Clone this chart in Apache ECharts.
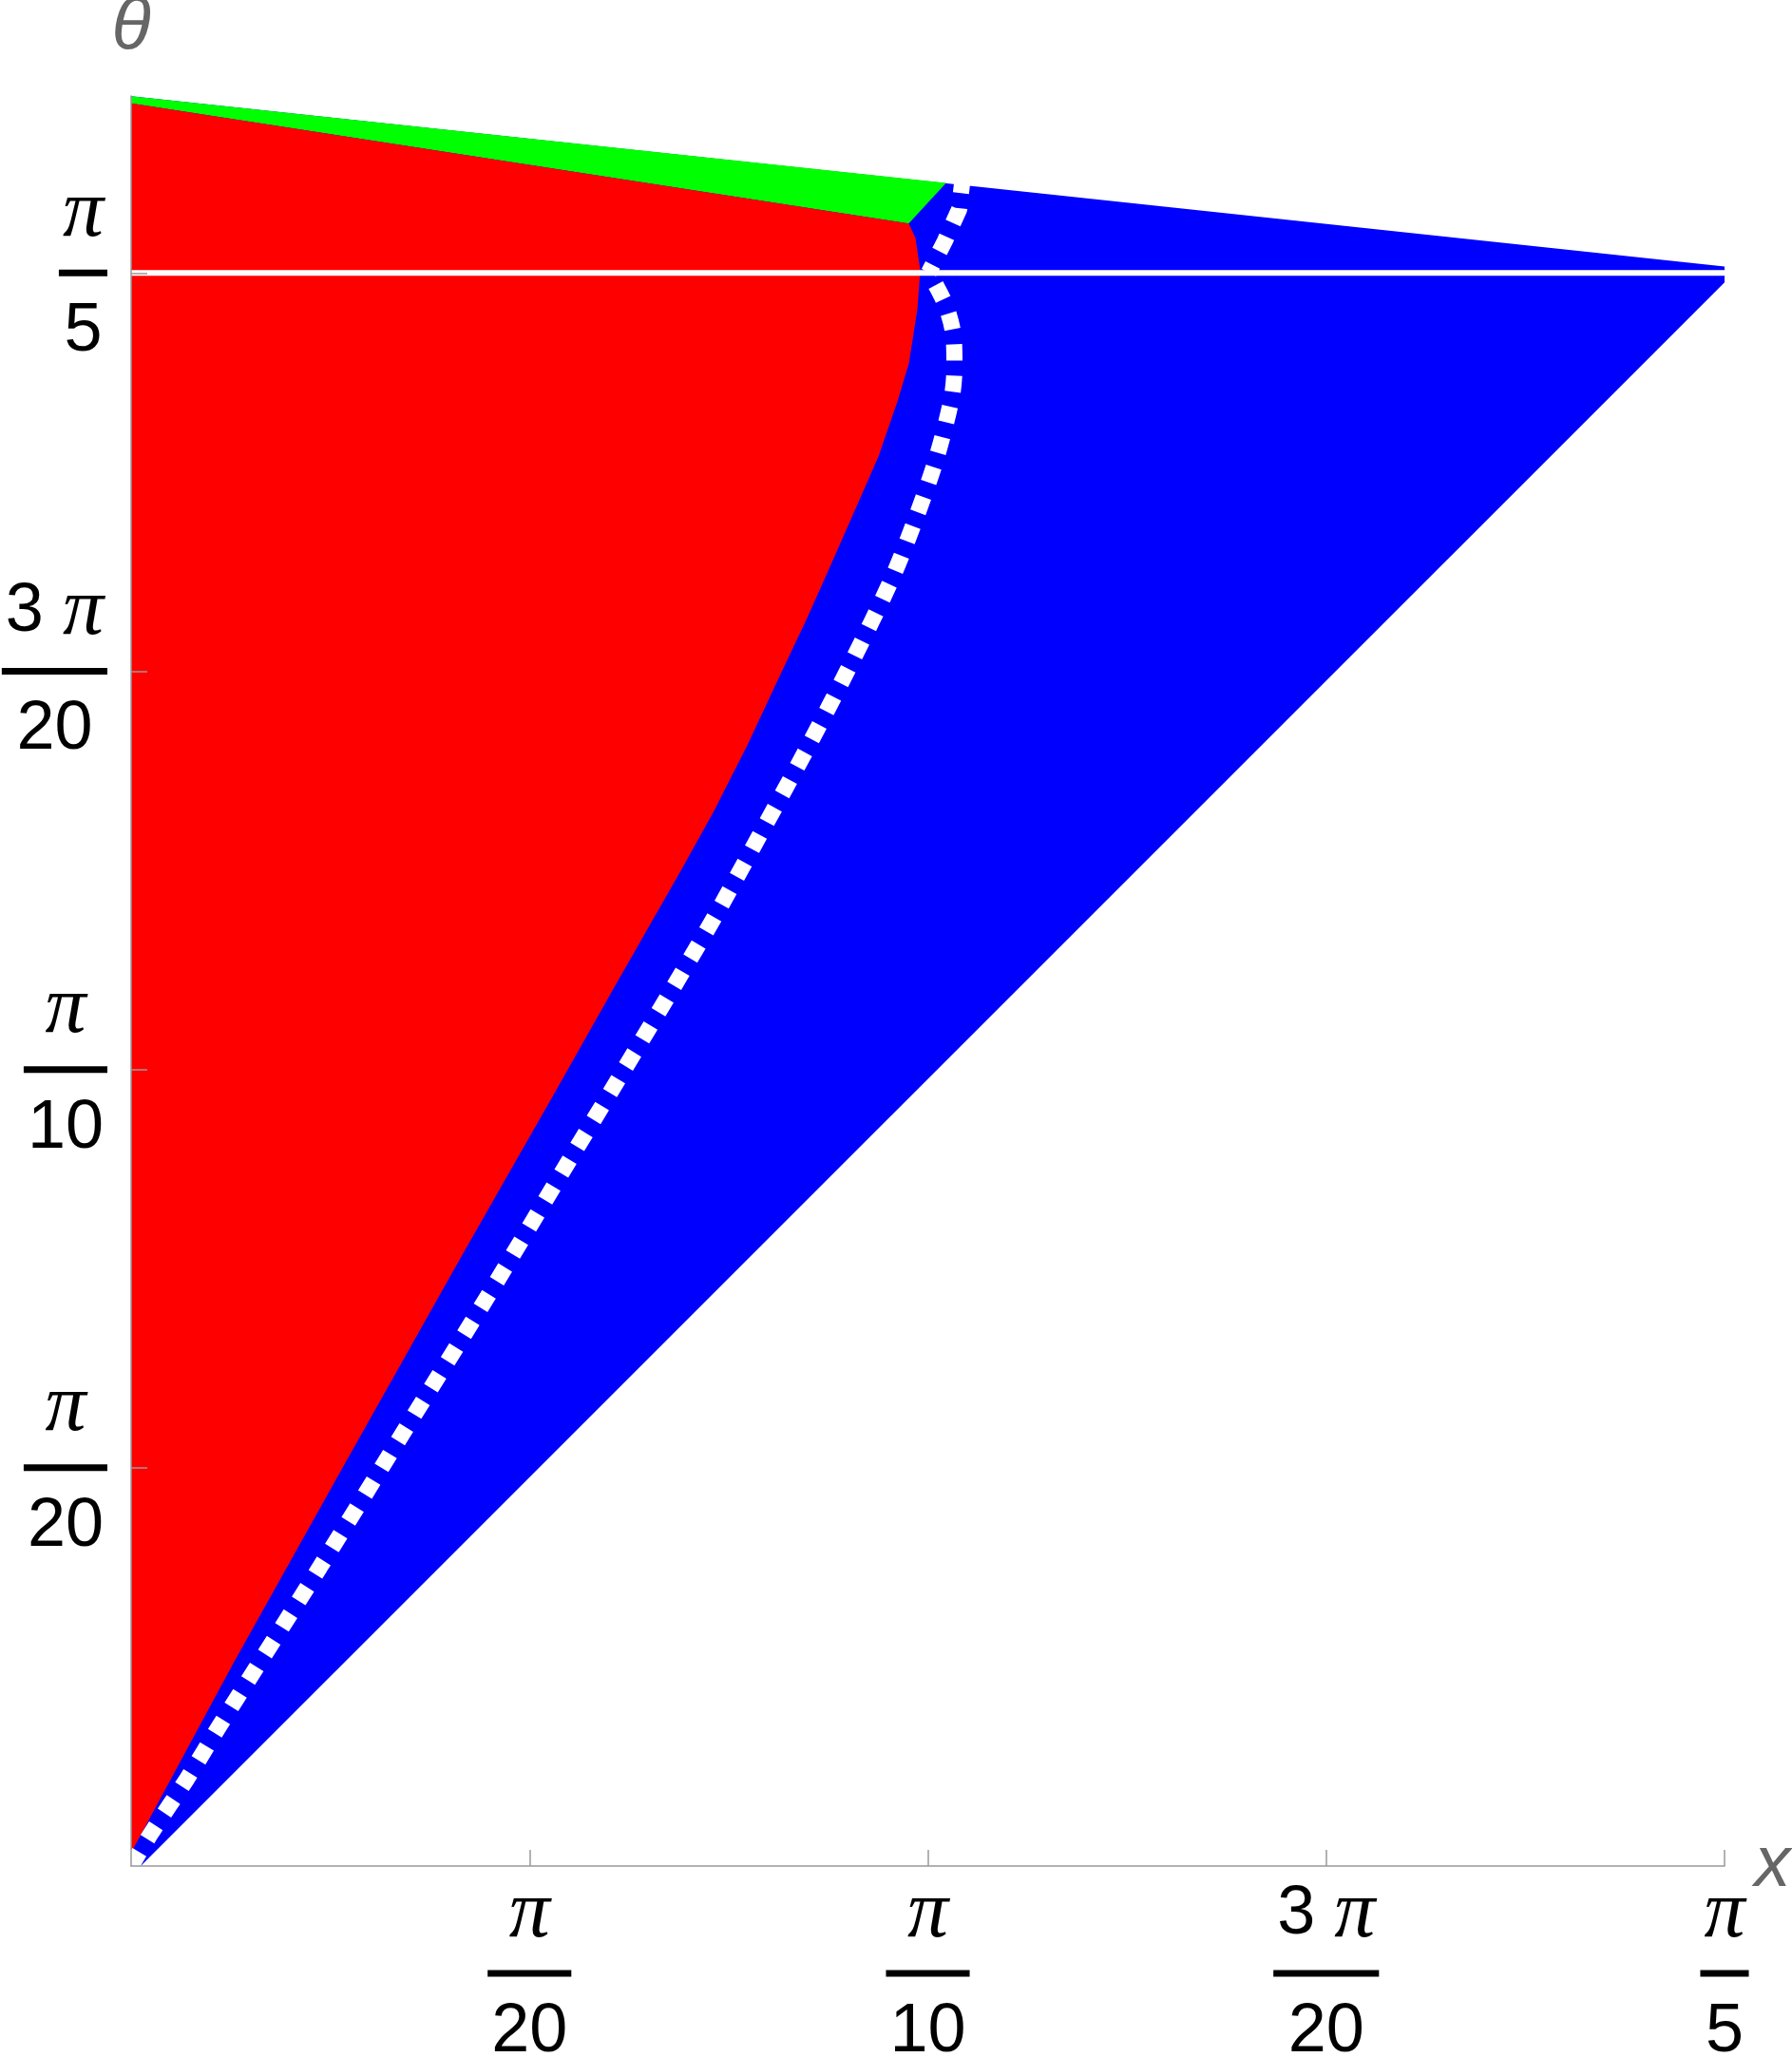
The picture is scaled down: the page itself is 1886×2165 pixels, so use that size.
<!DOCTYPE html>
<html><head><meta charset="utf-8">
<script src="https://cdn.jsdelivr.net/npm/echarts@6/dist/echarts.min.js"></script>
<style>html,body{margin:0;padding:0;background:#fff;overflow:hidden}#c{width:1886px;height:2165px}</style>
</head><body><div id="c"></div>
<script>
// All values are in units of π  (x/π and θ/π)
const xTicks = [0.05, 0.1, 0.15, 0.2];
const yTicks = [0.05, 0.1, 0.15, 0.2];
const tickNumerators = ['π', 'π', '3 π', 'π'];
const tickDenominators = ['20', '10', '20', '5'];

// blue region (whole admissible wedge)
const blueRegion = [[0, 0], [0.0012, 0], [0.2, 0.1988], [0.2, 0.2008], [0, 0.2222]];
// green band along the top
const greenRegion = [[0, 0.2222], [0.1023, 0.2113], [0.0976, 0.2062], [0, 0.2213]];
// red region
const redRegion = [[0, 0.2213], [0.0976, 0.2062], [0.09845, 0.20439], [0.09905, 0.20033], [0.09869, 0.19544],
  [0.09762, 0.18865], [0.09619, 0.18388], [0.0938, 0.17696], [0.09082, 0.17016], [0.08784, 0.16337],
  [0.08474, 0.15645], [0.08153, 0.14966], [0.07735, 0.14071], [0.07318, 0.13248], [0.06901, 0.12497],
  [0.06472, 0.11746], [0.06043, 0.10995], [0.05316, 0.09707], [0.0416, 0.0768], [0.02646, 0.04985],
  [0.01287, 0.02552], [0, 0.00167]];
// dotted white curve
const dottedLower = [[0, 0], [0.00262, 0.00429], [0.00703, 0.01097], [0.0112, 0.01777], [0.02372, 0.03756],
  [0.03421, 0.0545], [0.0447, 0.07143], [0.05507, 0.08872], [0.06126, 0.09897], [0.06734, 0.10911],
  [0.07342, 0.11948], [0.07914, 0.12986], [0.08486, 0.14035], [0.09035, 0.15097], [0.09547, 0.16158],
  [0.09845, 0.16909], [0.10107, 0.17672], [0.10298, 0.18424], [0.10334, 0.18817], [0.10322, 0.19211],
  [0.10215, 0.19616], [0.10012, 0.20005]];
const dottedUpper = [[0.10012, 0.20005], [0.10215, 0.20403], [0.10393, 0.20797], [0.10429, 0.21119]];
// horizontal white line at θ = π/5
const whiteLine = [[0, 0.2], [0.2, 0.2]];

const ctx = document.createElement('canvas').getContext('2d');
const nFont = '72px "Liberation Sans"';
const pFont = 'italic 86px "Liberation Serif"';
function tw(font, s) { ctx.font = font; return ctx.measureText(s).width; }

const rich = {
  n: { fontFamily: 'Liberation Sans', fontSize: 72, color: '#000', lineHeight: 70, align: 'center' },
  p: { fontFamily: 'Liberation Serif', fontStyle: 'italic', fontSize: 86, color: '#000', lineHeight: 70, align: 'center' }
};
tickNumerators.forEach((num, i) => {
  const pre = num.replace('π', '');
  const w = Math.max(tw(nFont, pre) + tw(pFont, 'π'), tw(nFont, tickDenominators[i])) + 8;
  rich['b' + i] = { width: w, height: 7, lineHeight: 54, backgroundColor: '#000', fontSize: 1, align: 'center' };
});
function fracLabel(ticks) {
  return function (v) {
    const i = ticks.findIndex(t => Math.abs(t - v) < 1e-6);
    if (i < 0) return '';
    const num = tickNumerators[i];
    const pre = num.replace('π', '');
    const top = (pre ? '{n|' + pre + '}' : '') + '{p|π}';
    return top + '\n{b' + i + '| }\n{n|' + tickDenominators[i] + '}';
  };
}

function polySeries(points, color) {
  return {
    type: 'custom', coordinateSystem: 'cartesian2d', data: points, encode: { x: 0, y: 1 },
    silent: true, z: 2, clip: false,
    renderItem(params, api) {
      if (params.dataIndex !== 0) return null;
      return { type: 'polygon', shape: { points: points.map(p => api.coord(p)) }, style: { fill: color } };
    }
  };
}
const axisGray = '#999';
const nameStyle = { fontFamily: 'Liberation Sans', fontStyle: 'italic', fontSize: 76, color: '#666' };

const chart = echarts.init(document.getElementById('c'), null, { renderer: 'canvas' });
chart.setOption({
  animation: false,
  backgroundColor: '#fff',
  grid: { left: 138, right: 71, top: 101, bottom: 201, containLabel: false, outerBoundsMode: 'none' },
  xAxis: {
    type: 'value', min: 0, max: 0.2, interval: 0.05, z: 10,
    name: 'x', nameLocation: 'end', nameGap: 30, nameTextStyle: nameStyle,
    axisLine: { lineStyle: { color: axisGray, width: 1.5 } },
    axisTick: { inside: true, length: 17, lineStyle: { color: axisGray, width: 1.5 }, customValues: xTicks },
    axisLabel: { margin: 16, formatter: fracLabel(xTicks), rich: rich, customValues: xTicks },
    splitLine: { show: false }
  },
  yAxis: {
    type: 'value', min: 0, max: 0.22222, interval: 0.05, z: 10,
    name: 'θ', nameLocation: 'end', nameGap: 33, nameTextStyle: nameStyle,
    axisLine: { lineStyle: { color: axisGray, width: 1.5 } },
    axisTick: { inside: true, length: 17, lineStyle: { color: axisGray, width: 1.5 }, customValues: yTicks },
    axisLabel: { margin: 25, formatter: fracLabel(yTicks), rich: rich, customValues: yTicks },
    splitLine: { show: false }
  },
  series: [
    polySeries(blueRegion, '#0000ff'),
    polySeries(greenRegion, '#00ff00'),
    polySeries(redRegion, '#ff0000'),
    { type: 'line', data: whiteLine, symbol: 'none', silent: true, z: 3,
      lineStyle: { color: '#fff', width: 6 } },
    { type: 'line', data: dottedLower, symbol: 'none', silent: true, z: 4, smooth: 0.3,
      lineStyle: { color: '#fff', width: 17, type: [17, 16], cap: 'butt' } },
    { type: 'line', data: dottedUpper, symbol: 'none', silent: true, z: 4,
      lineStyle: { color: '#fff', width: 17, type: [17, 16], cap: 'butt', dashOffset: 8 } }
  ]
});
</script></body></html>
